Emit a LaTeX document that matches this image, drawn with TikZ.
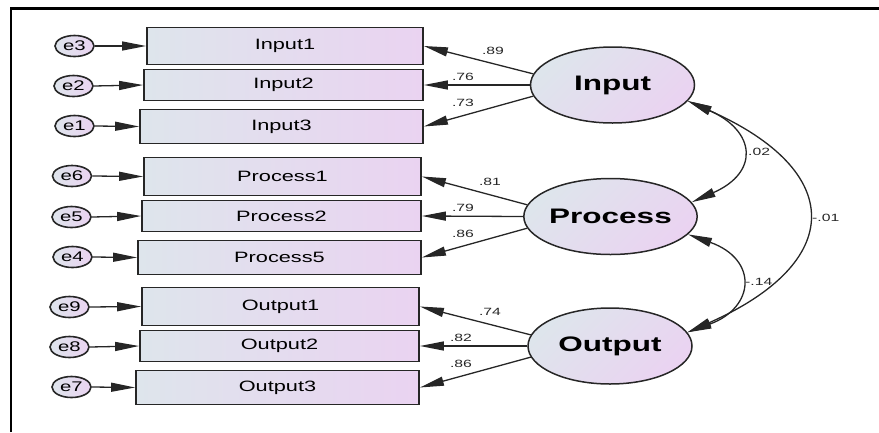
\documentclass[tikz,border=0pt]{standalone}
\usepackage{fontspec}
\usepackage{graphicx}
\setmainfont{Liberation Sans}
\usetikzlibrary{shapes.geometric,arrows.meta}

\definecolor{fillA}{RGB}{222,229,236}
\definecolor{fillB}{RGB}{234,211,241}
\definecolor{edge}{RGB}{38,38,38}

% horizontally widened text
\newcommand\wide[2][1.45]{\scalebox{#1}[1]{#2}}

\begin{document}
\begin{tikzpicture}[x=1pt,y=-1pt,
  >={Triangle[length=24pt,width=9pt]},
  obs/.style={draw=edge,line width=1.8pt,left color=fillA,right color=fillB,
              inner sep=0pt,font=\fontsize{15}{17}\selectfont},
  lat/.style={ellipse,draw=edge,line width=1.5pt,top color=fillA,bottom color=fillB,
              shading angle=45,minimum width=164pt,minimum height=76pt,inner sep=0pt,
              font=\fontsize{21}{24}\selectfont\bfseries},
  err/.style={ellipse,draw=edge,line width=1.6pt,left color=fillA,right color=fillB,
              minimum width=39pt,minimum height=21pt,inner sep=0pt,
              font=\fontsize{14}{15}\selectfont},
  load/.style={->,line width=1.3pt,draw=edge},
  cov/.style={<->,line width=1.3pt,draw=edge},
  lbl/.style={inner sep=0pt,text=edge,font=\fontsize{10.5}{12}\selectfont}]

\useasboundingbox (0,0) rectangle (879,432);
\draw[line width=2.6pt] (11,432) -- (11,8.5) -- (879,8.5);

% observed indicators
\node[obs,minimum width=276pt,minimum height=37pt] (in1) at (285,46)    {\wide{Input1}};
\node[obs,minimum width=279pt,minimum height=31pt] (in2) at (283.5,85)  {\wide{Input2}};
\node[obs,minimum width=283pt,minimum height=34pt] (in3) at (281.5,126.5) {\wide{Input3}};
\node[obs,minimum width=277pt,minimum height=38pt] (pr1) at (282.5,176.5) {\wide{Process1}};
\node[obs,minimum width=279pt,minimum height=31pt] (pr2) at (281.5,216) {\wide{Process2}};
\node[obs,minimum width=283pt,minimum height=34pt] (pr5) at (279.5,257.5) {\wide{Process5}};
\node[obs,minimum width=277pt,minimum height=38pt] (ou1) at (280.5,306.5) {\wide{Output1}};
\node[obs,minimum width=279pt,minimum height=31pt] (ou2) at (279.5,346) {\wide{Output2}};
\node[obs,minimum width=283pt,minimum height=34pt] (ou3) at (277.5,387.5) {\wide{Output3}};

% error terms
\node[err] (e3) at (74.5,46)  {\wide{e3}};
\node[err] (e2) at (73.5,86)  {\wide{e2}};
\node[err] (e1) at (74.5,126) {\wide{e1}};
\node[err] (e6) at (72,176)   {\wide{e6}};
\node[err] (e5) at (71.5,217) {\wide{e5}};
\node[err] (e4) at (72.5,257) {\wide{e4}};
\node[err] (e9) at (69.5,307) {\wide{e9}};
\node[err] (e8) at (69.5,347) {\wide{e8}};
\node[err] (e7) at (71.5,387) {\wide{e7}};

\foreach \e/\b in {e3/in1,e2/in2,e1/in3,e6/pr1,e5/pr2,e4/pr5,e9/ou1,e8/ou2,e7/ou3}
  \draw[load] (\e.east) -- (\b.west);

% latent factors
\node[lat] (inp) at (612.5,85)  {\wide[1.5]{Input}};
\node[lat] (pro) at (610.5,216.5) {\wide[1.5]{Process}};
\node[lat] (out) at (610,346)   {\wide[1.5]{Output}};

% factor loadings
\draw[load] (inp.172) -- (in1.east);
\draw[load] (inp.west) -- (in2.east);
\draw[load] (inp.188) -- (in3.east);
\draw[load] (pro.172) -- (pr1.east);
\draw[load] (pro.west) -- (pr2.east);
\draw[load] (pro.188) -- (pr5.east);
\draw[load] (out.172) -- (ou1.east);
\draw[load] (out.west) -- (ou2.east);
\draw[load] (out.188) -- (ou3.east);

\node[lbl] at (493,51)  {\wide[1.5]{.89}};
\node[lbl] at (463,77)  {\wide[1.5]{.76}};
\node[lbl] at (463,103) {\wide[1.5]{.73}};
\node[lbl] at (490,182) {\wide[1.5]{.81}};
\node[lbl] at (463,208) {\wide[1.5]{.79}};
\node[lbl] at (463,234) {\wide[1.5]{.86}};
\node[lbl] at (490,312) {\wide[1.5]{.74}};
\node[lbl] at (461,338) {\wide[1.5]{.82}};
\node[lbl] at (461,364) {\wide[1.5]{.86}};

% factor covariances
\draw[cov] (inp.-12) .. controls +(68,30) and +(68,-30) .. (pro.10);
\draw[cov] (pro.-13) .. controls +(70,25) and +(68,-25) .. (out.10);
\draw[cov] (inp.-12) .. controls +(158,70) and +(158,-70) .. (out.10);

\node[lbl,anchor=west] at (748,152) {\wide[1.5]{.02}};
\node[lbl,anchor=west] at (745,282) {\wide[1.5]{-.14}};
\node[lbl,anchor=west] at (812,218) {\wide[1.5]{-.01}};
\end{tikzpicture}
\end{document}
